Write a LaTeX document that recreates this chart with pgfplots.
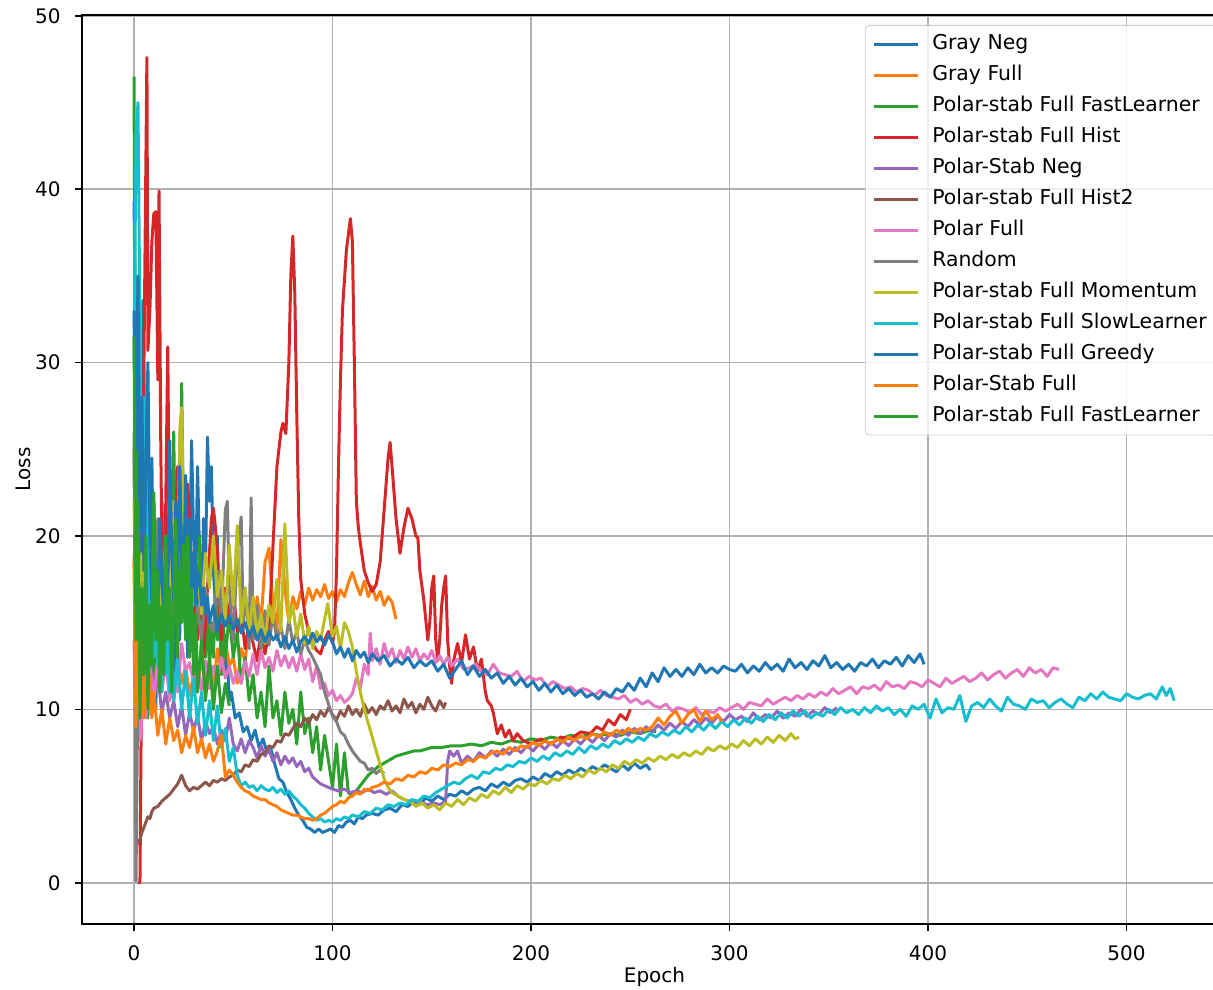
\documentclass[border=0pt]{standalone}
\usepackage{pgfplots}
\pgfplotsset{compat=1.18}
\usepackage{fontspec}
\setmainfont{DejaVu Sans}
\definecolor{c0}{HTML}{1F77B4}
\definecolor{c1}{HTML}{FF7F0E}
\definecolor{c2}{HTML}{2CA02C}
\definecolor{c3}{HTML}{D62728}
\definecolor{c4}{HTML}{9467BD}
\definecolor{c5}{HTML}{8C564B}
\definecolor{c6}{HTML}{E377C2}
\definecolor{c7}{HTML}{7F7F7F}
\definecolor{c8}{HTML}{BCBD22}
\definecolor{c9}{HTML}{17BECF}
\begin{document}
\begin{tikzpicture}
\begin{axis}[
  scale only axis, width=572.5pt, height=454.5pt,
  xmin=-26.2, xmax=550.6, ymin=-2.38, ymax=50.05,
  xtick={0,100,200,300,400,500}, ytick={0,10,20,30,40,50},
  grid=major, grid style={color=black!31, line width=0.8pt},
  axis line style={line width=0.8pt},
  tick align=outside, tick pos=left, major tick length=3.5pt,
  tick style={line width=0.8pt, black},
  /pgf/number format/assume math mode=true,
  font=\fontsize{10}{12}\selectfont,
  xticklabel style={anchor=north, inner sep=0pt, yshift=-7pt},
  yticklabel style={anchor=east, inner sep=0pt, xshift=-7pt},
  xlabel={Epoch}, ylabel={Loss},
  xlabel style={at={(axis description cs:0.5,-0.0649)}, anchor=base},
  ylabel style={at={(axis description cs:-0.0454,0.5)}, anchor=base},
  every axis plot/.append style={line width=1.5pt, line join=round},
  legend cell align=left,
  legend image code/.code={\draw[#1] (0pt,0pt) -- (22pt,0pt); \path (27pt,0pt);},
  legend style={at={(rel axis cs:1,1)}, anchor=north east, xshift=-5pt, yshift=-5pt,
    draw=black!20, fill=white, fill opacity=0.8, text opacity=1, rounded corners=2pt,
    font=\fontsize{10.2}{12}\selectfont, row sep=2.7pt, inner xsep=3.5pt, inner ysep=3pt,
    nodes={text height=7.5pt, text depth=2.3pt, inner sep=1.5pt}},
]
% 1 Gray Neg
\addplot[c0] coordinates {(0,39.3)(1,30)(2,18)(3,26)(4,14)(4.5,33.6)(6,20)(7,12)(8,18)(9,24.5)(10,15)(11,10)(12,19)(13,14)(14,22)(15,16)(16,12)(17,20)(18,15)(19,23)(20,17)(21,12)(22,19)(23,14)(24,21)(25,16)(26,22)(27,13)(28,18)(29,25.5)(30,20)(31,17)(32,24)(33,19)(34,15)(35,21)(36,18)(37,25.7)(38,22)(39,24)(40,18)(41,16)(42,20)(43,15)(44,17)(45,14)(46,12)(47,13)(48,10.5)(49,11)(51,9.5)(53,9.8)(55,8.7)(57,9)(59,8.2)(61,8.8)(63,7.8)(65,8.3)(67,7.5)(69,7.7)(71,6.8)(73,6)(75,5.8)(77,5.2)(79,4.8)(81,4.3)(83,3.9)(85,3.6)(87,3.2)(89,3.1)(91,2.9)(93,3.1)(95,2.9)(97,3.0)(99,3.1)(101,2.9)(103,3.3)(105,3.2)(107,3.5)(109,3.6)(111,3.4)(113,3.8)(115,3.7)(117,3.9)(120,4.0)(123,3.9)(126,4.2)(129,4.3)(132,4.1)(135,4.5)(138,4.4)(141,4.7)(144,4.5)(147,4.9)(150,4.7)(153,5.0)(156,4.8)(159,5.1)(162,5.0)(165,5.3)(168,5.1)(171,5.4)(174,5.5)(177,5.3)(180,5.7)(183,5.5)(186,5.8)(189,5.6)(192,5.9)(195,6.0)(198,5.8)(201,6.1)(204,5.9)(207,6.3)(210,6.1)(213,6.4)(216,6.2)(219,6.5)(222,6.3)(225,6.6)(228,6.4)(231,6.7)(234,6.5)(237,6.8)(240,6.6)(243,6.4)(246,6.8)(249,6.5)(252,6.9)(255,6.6)(258,6.8)(260,6.5)};
% 2 Gray Full
\addplot[c1] coordinates {(0,19)(1,12)(2,16)(3,10)(4,14)(6,11)(8,15)(10,12)(12,13.5)(14,11)(16,14)(18,12)(20,10.5)(22,13)(24,11.5)(26,12.5)(28,10.8)(30,12)(32,11)(34,13)(36,11.5)(38,12.8)(40,11.2)(42,13.5)(44,12)(46,14)(48,12.5)(50,13)(52,11.5)(54,13.5)(56,12.8)(58,15)(60,14)(62,16.5)(64,15)(66,18.5)(68,19.3)(70,16)(72,14.5)(74,19.8)(76,17)(78,15)(80,16.5)(82,15.8)(84,16.8)(86,16)(88,17)(90,16.3)(92,16.9)(94,16.5)(96,17.2)(98,16.4)(100,16.8)(102,16.2)(104,16.9)(106,16.5)(108,17.3)(110,17.9)(112,17.2)(114,16.6)(116,17.4)(118,16.5)(120,17.1)(122,16.3)(124,16.8)(126,16.0)(128,16.5)(130,16.2)(132,15.2)};
% 3 Polar-stab Full FastLearner
\addplot[c2] coordinates {(0,46.5)(1,20)(2,27)(3,12)(4,18)(5,10)(6,15)(7,9.5)(8,14)(9,11)(10,17)(11,12)(12,20)(13,15)(14,22)(15,16)(16,19)(17,13)(18,21)(19,15)(20,26)(21,18)(22,24)(23,16)(24,28.8)(25,20)(26,17)(27,22)(28,15)(29,19)(30,14)(31,18)(32,16)(33,20)(34,14)(35,17)(36,13)(37,16)(38,12.5)(39,15)(40,13)(41,17)(42,14)(43,16)(44,12)(45,15)(46,13)(48,15.5)(50,13)(52,14.5)(54,11.5)(56,13)(58,10.5)(60,12)(62,9.5)(64,11)(66,9)(68,12.5)(70,9.5)(72,10.5)(74,8.5)(76,11)(78,9.2)(80,10)(82,8)(84,11)(86,8.6)(88,9.5)(90,7.5)(92,9)(94,6.5)(96,8.5)(98,7)(100,5.5)(102,8)(104,5)(106,7.5)(108,5.2)(110,5.0)(112,5.3)(114,5.6)(116,5.9)(118,6.2)(120,6.4)(123,6.7)(126,6.9)(129,7.1)(132,7.3)(135,7.4)(138,7.5)(141,7.6)(144,7.6)(147,7.7)(150,7.8)(155,7.8)(160,7.9)(165,7.9)(170,8.0)(175,7.9)(180,8.1)(185,8.0)(190,8.2)(195,8.1)(200,8.3)(205,8.2)(210,8.4)(215,8.3)(220,8.5)(225,8.4)(230,8.6)(235,8.5)(240,8.6)(245,8.5)(250,8.7)(255,8.6)(260,8.8)(263,8.7)};
% 4 Polar-stab Full Hist
\addplot[c3] coordinates {(2,0)(3,0)(4,15)(5,30)(6.5,47.6)(7,30.7)(8,33)(9,37)(10,38.6)(11,38.7)(12,29)(12.6,39.9)(13.5,25)(14.5,15)(15.5,14)(16,22)(17,30.9)(18,18)(19,13)(20,17)(21,21)(22,24)(23,22)(24,19)(25,18)(26,21.5)(27,23)(28,21)(29,18)(30,15)(31,17)(32,14)(33,16)(35,13)(37,17)(39,21)(40,21.6)(41,20.5)(42,19)(43,16)(44,14)(45,16)(46,17)(48,15)(50,16.9)(52,14.5)(54,15.5)(56,13.5)(58,15)(60,13.8)(62,12.8)(64,14.5)(66,13.2)(68,14.5)(70,19.4)(72,24)(74,26)(75,26.5)(76.5,25.9)(78,30)(79,35)(80,37.3)(81,34)(82,27)(83,21)(84,17.5)(86,15.5)(88,14.5)(90,13.8)(92,13.4)(94,13.2)(96,14.0)(98,14.5)(100,13.8)(101,14.5)(102,18)(103,24)(104,29)(105,33)(107,36.5)(109,38.3)(110,37)(111,30)(112,22)(113,20.5)(114,19.6)(116,18)(118,17.3)(120,16.8)(122,17.2)(124,18.5)(126,21.5)(128,24.5)(129,25.4)(130,24)(132,21)(134,19)(136,20.5)(138,21.6)(140,21)(142,20)(143,19.9)(144,18)(146,16.3)(148,14)(149,15)(150,17)(151,17.7)(152,14)(153,12.8)(154,14)(155,16)(156,17)(157,17.7)(158,14)(159,12.5)(160,11.5)(161,12.8)(163,13.8)(165,12.7)(167,14.3)(169,12.9)(171,13.6)(173,12.2)(175,12.9)(177,11)(178,10.5)(180,10.2)(181,9.8)(183,8.6)(185,9.1)(187,8.4)(189,8.8)(191,8.2)(193,8.6)(196,8.2)(200,8.0)(205,8.3)(210,8.0)(215,8.4)(220,8.3)(225,8.7)(230,8.6)(233,9.0)(236,8.8)(239,9.4)(242,9.1)(245,9.7)(248,9.4)(250,10.0)};
% 5 Polar-Stab Neg
\addplot[c4] coordinates {(0,25)(1,18)(2,14)(3,16)(4,12)(5,14)(6,11)(8,13)(10,10.5)(12,12)(14,9.8)(16,11)(18,9.5)(20,10.5)(22,9)(24,10.2)(26,8.5)(28,9.8)(30,8.8)(32,9.6)(34,8.2)(36,9.3)(38,8.6)(40,9.0)(42,8.0)(44,8.8)(46,8.2)(48,9.5)(50,8.0)(52,7.6)(54,8.3)(56,7.5)(58,8.2)(60,7.8)(62,7.2)(64,7.9)(66,7.3)(68,7.7)(70,7.0)(72,7.5)(74,6.8)(76,7.3)(78,6.9)(80,7.2)(82,6.7)(84,7.0)(86,6.4)(88,6.6)(90,6.1)(92,5.9)(94,5.7)(96,5.6)(98,5.5)(100,5.4)(103,5.3)(106,5.4)(109,5.2)(112,5.3)(115,5.2)(118,5.4)(121,5.2)(124,5.3)(127,5.1)(130,5.3)(133,5.0)(136,4.8)(139,4.7)(142,4.6)(145,4.6)(148,4.5)(151,4.6)(154,4.5)(157,4.7)(158,7.0)(159,7.6)(161,7.3)(163,7.6)(165,6.9)(168,7.3)(171,7.0)(174,7.5)(177,7.2)(180,7.6)(183,7.3)(186,7.7)(189,7.4)(192,7.8)(195,7.5)(198,7.9)(201,7.6)(204,8.0)(207,7.7)(210,8.1)(213,7.8)(216,8.2)(219,7.9)(222,8.3)(225,8.0)(228,8.4)(231,8.1)(234,8.5)(237,8.2)(240,8.6)(243,8.4)(246,8.8)(249,8.5)(252,8.9)(255,8.6)(258,9.0)(261,8.7)(264,9.1)(267,8.8)(270,9.2)(273,8.9)(276,9.3)(279,9.0)(282,9.4)(285,9.1)(288,9.5)(291,9.2)(294,9.6)(297,9.3)(300,9.7)(303,9.4)(306,9.6)(309,9.3)(312,9.8)(315,9.4)(318,9.7)(321,9.5)(324,9.9)(327,9.5)(330,9.8)(333,9.6)(336,10.0)(339,9.6)(342,9.9)(345,9.7)(348,10.1)(351,9.8)(354,10.1)};
% 6 Polar-stab Full Hist2
\addplot[c5] coordinates {(2,2.2)(3,2.5)(4,2.9)(5,3.2)(6,3.5)(7,3.8)(8,3.7)(9,4.1)(10,4.3)(12,4.4)(14,4.7)(16,4.9)(18,5.1)(20,5.4)(22,5.7)(24,6.2)(26,5.6)(28,5.3)(30,5.5)(32,5.4)(34,5.6)(36,5.8)(38,5.6)(40,5.9)(42,5.8)(44,6.0)(46,5.9)(48,6.1)(50,6.2)(52,6.5)(54,6.4)(56,6.8)(58,6.7)(60,7.1)(62,7.0)(64,7.4)(66,7.5)(68,7.9)(70,7.8)(72,8.2)(74,8.1)(76,8.6)(78,8.5)(80,8.9)(82,9.2)(84,9.0)(86,9.5)(88,9.2)(90,9.7)(92,9.4)(94,9.9)(96,9.6)(98,10.1)(100,9.7)(102,9.4)(104,9.9)(106,9.6)(108,10.2)(110,9.7)(112,10.0)(114,9.6)(116,10.3)(118,9.8)(120,10.1)(122,9.7)(124,10.2)(126,10.0)(128,10.5)(130,9.9)(132,10.2)(134,9.8)(136,10.6)(138,10.1)(140,10.4)(142,9.8)(144,10.3)(146,10.0)(148,10.7)(150,10.2)(152,9.9)(154,10.5)(156,10.1)(157,10.4)};
% 7 Polar Full
\addplot[c6] coordinates {(0,14)(1,8.5)(2,10)(3,8.2)(4,9.6)(5,11)(6,9.5)(8,12.5)(10,10.5)(12,13)(14,11)(16,12.8)(18,10.5)(20,12)(22,11)(24,13.8)(26,12.2)(28,12.7)(30,11.5)(32,12.4)(34,11.1)(36,12.8)(38,11.2)(40,12.5)(42,11.6)(44,13)(46,11.8)(48,12.5)(50,11.5)(52,12.2)(54,11.5)(56,12.8)(58,11.9)(60,13.2)(62,12.0)(64,13.4)(66,12.4)(68,13.0)(70,12.2)(72,13.4)(74,12.5)(76,13.1)(78,12.4)(80,13.0)(82,12.2)(84,13.2)(86,12.3)(88,12.9)(90,11.6)(92,12.5)(94,11.2)(96,11.5)(98,10.8)(100,11.1)(102,10.5)(104,10.8)(106,10.4)(108,10.6)(110,10.9)(112,11.8)(114,11.2)(116,12.6)(118,12.0)(119,14.4)(120,12.8)(122,13.5)(124,12.6)(126,13.8)(128,13.0)(130,13.5)(132,12.7)(134,13.4)(136,12.9)(138,13.6)(140,13.0)(142,13.5)(144,12.8)(146,13.2)(148,12.9)(150,13.4)(152,12.7)(154,13.1)(156,12.6)(158,13.0)(160,12.5)(163,12.9)(166,12.3)(169,12.4)(172,12.6)(175,12.2)(178,12.0)(181,12.6)(184,12.1)(187,12.0)(190,11.9)(193,12.2)(196,11.6)(199,11.9)(202,11.7)(205,11.8)(208,11.3)(211,11.6)(214,11.4)(217,11.2)(220,11.3)(223,11.0)(226,11.2)(229,11.1)(232,10.8)(235,11.1)(238,10.8)(241,10.7)(244,10.6)(247,10.8)(250,10.4)(253,10.6)(256,10.3)(259,10.5)(262,10.2)(265,10.1)(268,10.3)(271,9.9)(274,10.1)(277,10.0)(280,9.8)(283,10.1)(286,9.7)(289,9.9)(292,9.8)(295,10.1)(298,9.9)(301,10.1)(304,10.3)(307,10.0)(310,10.4)(313,10.3)(316,10.2)(319,10.6)(322,10.3)(325,10.5)(328,10.7)(331,10.5)(334,10.8)(337,10.6)(340,10.9)(343,10.7)(346,11.0)(349,10.8)(352,11.2)(355,10.9)(358,11.1)(361,11.3)(364,10.9)(367,11.3)(370,11.2)(373,11.4)(376,11.1)(379,11.6)(382,11.3)(385,11.4)(388,11.2)(391,11.6)(394,11.5)(397,11.3)(400,11.7)(403,11.5)(406,11.3)(409,11.8)(412,11.5)(415,11.7)(418,11.9)(421,11.6)(424,11.8)(427,12.1)(430,11.7)(433,12.0)(436,12.2)(439,11.8)(442,12.1)(445,12.3)(448,11.9)(451,12.4)(454,12.1)(457,12.3)(460,11.9)(463,12.4)(466,12.3)};
% 8 Random
\addplot[c7] coordinates {(0,26)(1,0.1)(2,12)(3,18)(4,14)(5,20)(6,16)(7,22)(8,17)(9,19)(10,15)(12,21)(14,16)(16,19)(18,14)(20,18)(22,15)(24,17.5)(26,14.5)(28,16.5)(30,13.5)(32,16)(34,14)(36,17)(38,15)(40,14.5)(42,18)(44,15)(46,21.5)(47,22)(48,17)(50,14)(52,19)(54,21.1)(55,15)(56,17)(58,13.5)(59,22.2)(60,14)(62,16)(64,13.5)(66,15.7)(68,13.7)(70,15.5)(72,14)(74,14.8)(76,13.5)(78,15.2)(80,13.8)(82,14.5)(84,13.2)(86,14)(88,13.4)(90,13)(92,12.5)(94,12)(96,11)(98,10.3)(100,9.6)(102,9.3)(104,8.7)(106,8.5)(108,8)(110,7.6)(112,7.3)(114,7.0)(116,6.9)(118,6.5)(120,6.6)(122,6.3)(124,6.5)(126,6.3)};
% 9 Polar-stab Full Momentum
\addplot[c8] coordinates {(0,22)(2,16)(4,19)(6,14)(8,17)(10,13)(12,18)(14,15)(16,20)(18,16)(20,22)(22,18)(23,26)(24,27.4)(25,21)(26,17)(28,19.5)(30,16)(32,18)(34,15.5)(36,19)(38,17)(40,20)(42,16.5)(44,18)(46,15)(48,19.5)(50,16)(52,20.6)(54,15)(56,17)(58,14.5)(60,16.5)(62,14.2)(64,15.5)(66,13.8)(68,16)(70,15)(72,17.5)(74,14.5)(76,20.7)(77,18)(78,15)(80,16)(82,14.2)(84,15.5)(86,13.8)(88,14.8)(90,13.5)(92,14.5)(94,14.0)(96,15.2)(97.6,16.1)(100,14.2)(102,14.8)(104,13.5)(106,15.0)(108,14.5)(110,13.6)(112,12.2)(114,11.0)(116,10.0)(118,9.2)(120,8.4)(122,7.6)(124,6.8)(126,6.0)(128,5.5)(130,5.2)(133,5.0)(136,4.8)(139,4.7)(142,4.4)(145,4.6)(148,4.3)(151,4.5)(154,4.2)(157,4.6)(160,4.4)(163,4.8)(166,4.5)(169,4.9)(172,4.7)(175,5.1)(178,4.9)(181,5.3)(184,5.1)(187,5.5)(190,5.2)(193,5.6)(196,5.4)(199,5.7)(202,5.6)(205,5.9)(208,5.7)(211,6.0)(214,5.9)(217,6.2)(220,6.0)(223,6.3)(226,6.1)(229,6.5)(232,6.3)(235,6.6)(238,6.4)(241,6.8)(244,6.6)(247,7.0)(250,6.8)(253,7.1)(256,6.9)(259,7.2)(262,7.0)(265,7.3)(268,7.1)(271,7.4)(274,7.2)(277,7.5)(280,7.3)(283,7.6)(286,7.4)(289,7.8)(292,7.6)(295,7.9)(298,7.7)(301,8.0)(304,7.8)(307,8.2)(310,7.9)(313,8.3)(316,8.0)(319,8.4)(322,8.1)(325,8.5)(328,8.2)(331,8.6)(333,8.3)(335,8.4)};
% 10 Polar-stab Full SlowLearner
\addplot[c9] coordinates {(0,30)(1,43)(2,45)(3,32)(4,22)(5,28)(6,17)(7,24)(8,14)(9,19)(10,13)(11,17)(12,12.5)(13,15.5)(14,11)(15,14)(16,12)(17,15.5)(18,11)(19,13.5)(20,10.5)(22,13)(24,10)(26,12.2)(28,9.5)(30,11.8)(32,9.2)(34,11)(36,8.5)(38,10.5)(40,8.2)(42,10.2)(44,7.8)(46,8.9)(48,7.0)(50,7.8)(52,6.2)(54,5.6)(56,5.8)(58,5.5)(60,5.6)(62,5.3)(64,5.6)(66,5.4)(68,5.3)(70,5.5)(72,5.2)(74,5.4)(76,5.1)(78,5.3)(80,5.0)(82,4.8)(84,4.5)(86,4.3)(88,4.0)(90,3.8)(92,3.6)(94,3.7)(96,3.5)(98,3.6)(100,3.5)(102,3.7)(104,3.6)(106,3.8)(108,3.7)(110,3.9)(113,3.8)(116,4.1)(119,4.0)(122,4.3)(125,4.2)(128,4.5)(131,4.4)(134,4.6)(137,4.5)(140,4.8)(143,4.7)(146,5.0)(149,4.9)(152,5.2)(155,5.4)(158,5.6)(161,5.8)(164,5.7)(167,6.0)(170,6.2)(173,6.0)(176,6.4)(179,6.3)(182,6.6)(185,6.5)(188,6.8)(191,6.7)(194,7.0)(197,6.9)(200,7.2)(203,7.0)(206,7.3)(209,7.1)(212,7.5)(215,7.3)(218,7.6)(221,7.4)(224,7.8)(227,7.5)(230,7.9)(233,7.7)(236,8.0)(239,7.8)(242,8.2)(245,8.0)(248,8.3)(251,8.1)(254,8.4)(257,8.2)(260,8.6)(263,8.4)(266,8.7)(269,8.5)(272,8.8)(275,8.6)(278,9.0)(281,8.7)(284,9.1)(287,8.8)(290,9.2)(293,8.9)(296,9.3)(299,9.0)(302,9.4)(305,9.1)(308,9.5)(311,9.2)(314,9.6)(317,9.3)(320,9.7)(323,9.4)(326,9.8)(329,9.5)(332,9.9)(335,9.6)(338,9.9)(341,9.5)(344,9.8)(347,9.6)(350,10.0)(353,9.7)(356,10.1)(359,9.8)(362,10.0)(365,9.7)(368,10.1)(371,9.8)(374,10.2)(377,9.9)(380,10.1)(383,9.7)(386,10.0)(389,9.6)(392,10.2)(395,10.0)(398,10.3)(401,9.5)(404,10.6)(407,9.8)(410,10.1)(413,10.0)(416,10.8)(419,9.3)(422,10.2)(425,10.4)(428,10.1)(431,10.6)(434,10.2)(437,9.9)(440,10.7)(443,10.3)(446,10.2)(449,10.0)(452,10.6)(455,10.4)(458,10.5)(461,10.1)(464,10.4)(467,10.6)(470,10.3)(473,10.1)(476,10.7)(479,10.5)(482,10.9)(485,10.6)(488,11.0)(491,10.7)(494,10.6)(497,10.5)(500,10.9)(503,10.7)(506,10.6)(509,10.8)(512,10.9)(515,10.6)(518,11.3)(520,10.8)(522,11.2)(524,10.5)};
% 11 Polar-stab Full Greedy
\addplot[c0] coordinates {(0,33)(1,25)(2,35)(3,20)(4,28)(5,18)(6,24)(7,30)(8,20)(9,16)(10,22)(11,17)(12,14)(13,21)(14,18)(15,15)(16,20)(17,17)(18,25.5)(19,19)(20,16)(21,22)(22,18)(23,24)(24,19)(25,17)(26,23.5)(27,19)(28,21)(29,17)(30,19)(31,16)(32,18)(33,17.5)(34,16)(35,17)(36,15.5)(37,16.5)(38,15)(40,16)(42,14.5)(44,15.5)(46,14.8)(48,15.4)(50,14.6)(52,15.2)(54,14.4)(56,15)(58,14.2)(60,14.8)(62,14.0)(64,14.6)(66,13.9)(68,14.5)(70,14.0)(72,14.3)(74,13.6)(76,14.2)(78,13.5)(80,14.0)(82,13.3)(84,13.9)(86,14.2)(88,13.8)(90,14.4)(92,13.9)(94,14.2)(96,13.7)(98,14.3)(100,13.9)(102,13.2)(104,13.6)(106,13.0)(108,13.5)(110,12.8)(112,13.4)(114,13.0)(116,13.3)(118,12.7)(120,13.2)(123,12.8)(126,13.1)(129,12.5)(132,12.9)(135,12.6)(138,13.0)(141,12.4)(144,12.8)(147,12.5)(150,12.8)(153,12.2)(156,12.6)(159,11.8)(162,12.3)(165,12.8)(168,12.0)(171,12.5)(174,11.9)(177,12.3)(180,11.8)(183,12.1)(186,11.5)(189,11.9)(192,11.4)(195,11.8)(198,11.3)(201,11.6)(204,11.1)(207,11.5)(210,11.0)(213,11.4)(216,10.9)(219,11.2)(222,10.8)(225,11.1)(228,10.7)(231,10.9)(234,10.6)(237,11.0)(240,10.7)(243,11.2)(246,11.0)(249,11.5)(252,11.1)(255,11.8)(258,11.3)(261,12.1)(264,11.6)(267,12.4)(270,11.9)(273,12.3)(276,11.9)(279,12.4)(282,12.0)(285,12.6)(288,12.1)(291,12.4)(294,12.1)(297,12.5)(300,12.3)(303,12.2)(306,12.6)(309,12.1)(312,12.5)(315,12.2)(318,12.7)(321,12.3)(324,12.6)(327,12.2)(330,12.9)(333,12.4)(336,12.7)(339,12.3)(342,12.8)(345,12.5)(348,13.1)(351,12.4)(354,12.7)(357,12.3)(360,12.6)(363,12.2)(366,12.7)(369,12.5)(372,12.9)(375,12.4)(378,12.8)(381,12.6)(384,13.0)(387,12.5)(390,13.1)(393,12.7)(396,13.2)(398,12.6)};
% 12 Polar-Stab Full
\addplot[c1] coordinates {(0,18.5)(1,9)(2,14)(3,10)(4,12.5)(5,9.5)(6,13.5)(7,10)(8,12)(9,9.5)(10,11)(12,8.5)(14,10)(16,8)(18,9.5)(20,8.2)(22,8.8)(24,7.5)(26,8.5)(28,7.8)(30,9)(32,7.5)(34,8.3)(36,7.2)(38,8)(40,7)(42,7.6)(44,8.5)(46,6.1)(48,6.5)(50,6.2)(52,5.8)(54,5.5)(56,5.3)(58,5.2)(60,5.0)(62,4.9)(64,4.8)(66,4.8)(68,4.6)(70,4.5)(72,4.4)(74,4.2)(76,4.1)(78,4.0)(80,3.9)(82,3.9)(84,3.8)(86,3.7)(88,3.7)(90,3.6)(92,3.7)(94,3.9)(96,4.0)(98,4.2)(100,4.4)(102,4.5)(104,4.7)(106,4.6)(108,4.9)(110,5.0)(112,5.2)(114,5.1)(116,5.4)(118,5.3)(120,5.5)(123,5.6)(126,5.8)(129,5.7)(132,6.0)(135,5.9)(138,6.2)(141,6.1)(144,6.4)(147,6.3)(150,6.6)(153,6.5)(156,6.8)(159,6.7)(162,6.9)(165,6.8)(168,7.1)(171,7.0)(174,7.3)(177,7.2)(180,7.5)(183,7.6)(186,7.4)(189,7.8)(192,7.6)(195,7.9)(198,7.8)(201,8.1)(204,7.9)(207,8.2)(210,8.0)(213,8.3)(216,8.1)(219,8.4)(222,8.2)(225,8.5)(228,8.3)(231,8.6)(234,8.4)(237,8.7)(240,8.5)(243,8.8)(246,8.6)(249,8.9)(252,8.7)(255,8.9)(258,8.8)(261,9.0)(264,9.5)(267,9.1)(270,9.6)(273,9.9)(276,9.2)(279,9.7)(282,10.0)(285,9.3)(288,9.9)(291,9.4)(294,9.7)(296,9.3)};
% 13 Polar-stab Full FastLearner
\addplot[c2] coordinates {(0,31.5)(1,14)(2,22)(3,9.5)(4,17)(5,12)(6,20)(7,10)(8,16)(9,12.5)(10,22.5)(11,14)(12,18)(13,11)(14,16)(15,12)(16,20)(17,14)(18,17)(19,11)(20,15.5)(21,21)(22,13)(23,18)(24,15)(25,19.5)(26,14)(27,20)(28,13)(29,17)(30,12)(31,15.5)(32,11)(34,14)(36,10.5)(38,13)(40,10)(42,12.5)(44,9.8)(46,11.5)(48,10.2)};
\legend{Gray Neg, Gray Full, Polar-stab Full FastLearner, Polar-stab Full Hist, Polar-Stab Neg, Polar-stab Full Hist2, Polar Full, Random, Polar-stab Full Momentum, Polar-stab Full SlowLearner, Polar-stab Full Greedy, Polar-Stab Full, Polar-stab Full FastLearner}
\end{axis}
\pgfresetboundingbox
\path[use as bounding box] (-41pt,-32.5pt) rectangle (565.5pt,462pt);
\end{tikzpicture}
\end{document}
